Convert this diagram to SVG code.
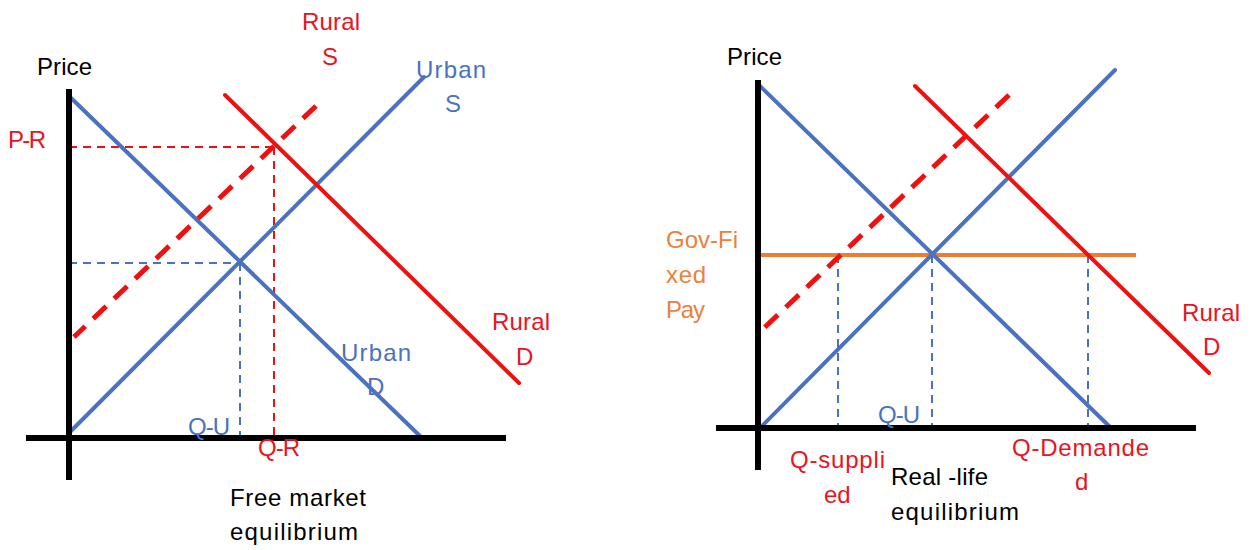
<svg xmlns="http://www.w3.org/2000/svg" width="1252" height="550" viewBox="0 0 1252 550">
<style>
text{font-family:"Liberation Sans",Arial,sans-serif;font-size:24px}
.k{fill:#000}.r{fill:#e8141e}.b{fill:#4a72c0}.o{fill:#e8823c}
.ax{stroke:#000;stroke-width:6;fill:none}
.bl{stroke:#4a72c0;stroke-width:4;fill:none;stroke-linecap:round}
.rl{stroke:#f01010;stroke-width:4;fill:none;stroke-linecap:round}
.rs{stroke:#f01010;stroke-width:5;fill:none;stroke-dasharray:18 11}
.rd{stroke:#f01010;stroke-width:2;fill:none;stroke-dasharray:8 6}
.bd{stroke:#4a72c0;stroke-width:2;fill:none;stroke-dasharray:8 6}
.ol{stroke:#ed7d31;stroke-width:4;fill:none}
</style>
<rect width="1252" height="550" fill="#fff"/>
<g id="connectors">
<line class="rd" x1="69" y1="147" x2="274" y2="147"/>
<line class="rd" x1="274" y1="147" x2="274" y2="438"/>
<line class="bd" x1="69" y1="263" x2="240" y2="263"/>
<line class="bd" x1="240" y1="263" x2="240" y2="438"/>
<line class="bl" x1="70" y1="97" x2="420" y2="436"/>
<line class="bl" x1="70" y1="432" x2="424" y2="77"/>
<line class="rl" x1="225" y1="95" x2="519" y2="383"/>
<line class="rs" x1="316" y1="106" x2="74" y2="337"/>
<line class="ax" x1="69" y1="89" x2="69" y2="480"/>
<line class="ax" x1="26" y1="438" x2="506" y2="438"/>

<line class="bd" x1="838" y1="255" x2="838" y2="428"/>
<line class="bd" x1="932" y1="255" x2="932" y2="428"/>
<line class="bd" x1="1088" y1="255" x2="1088" y2="428"/>
<line class="ol" x1="760" y1="255" x2="1136" y2="255"/>
<line class="bl" x1="760" y1="86" x2="1110" y2="427"/>
<line class="bl" x1="760" y1="428" x2="1115" y2="70"/>
<line class="rl" x1="915" y1="86" x2="1209" y2="373"/>
<line class="rs" x1="1009" y1="95" x2="764" y2="328"/>
<line class="ax" x1="758" y1="80" x2="758" y2="470"/>
<line class="ax" x1="716" y1="428" x2="1196" y2="428"/>
</g>
<g id="left-labels">
<text class="k" x="37" y="75" textLength="55">Price</text>
<text class="r" x="8" y="148" textLength="38">P-R</text>
<text class="r" x="302" y="30" textLength="58">Rural</text>
<text class="r" x="322" y="65">S</text>
<text class="b" x="416" y="78" textLength="70">Urban</text>
<text class="b" x="445" y="112">S</text>
<text class="b" x="341" y="361" textLength="70">Urban</text>
<text class="b" x="367" y="395">D</text>
<text class="r" x="492" y="330" textLength="58">Rural</text>
<text class="r" x="516" y="365">D</text>
<text class="b" x="188" y="435" textLength="42">Q-U</text>
<text class="r" x="258" y="456" textLength="42">Q-R</text>
<text class="k" x="230" y="506" textLength="136">Free market</text>
<text class="k" x="230" y="540" textLength="128">equilibrium</text>
</g>
<g id="right-labels">
<text class="k" x="727" y="65" textLength="55">Price</text>
<text class="o" x="666" y="248" textLength="72">Gov-Fi</text>
<text class="o" x="666" y="283" textLength="40">xed</text>
<text class="o" x="666" y="318" textLength="39">Pay</text>
<text class="r" x="1182" y="321" textLength="58">Rural</text>
<text class="r" x="1203" y="355">D</text>
<text class="b" x="878" y="423" textLength="42">Q-U</text>
<text class="r" x="790" y="468" textLength="95">Q-suppli</text>
<text class="r" x="824" y="503">ed</text>
<text class="k" x="891" y="485" textLength="97">Real -life</text>
<text class="k" x="891" y="520" textLength="128">equilibrium</text>
<text class="r" x="1012" y="456" textLength="137">Q-Demande</text>
<text class="r" x="1075" y="490">d</text>
</g>
</svg>
